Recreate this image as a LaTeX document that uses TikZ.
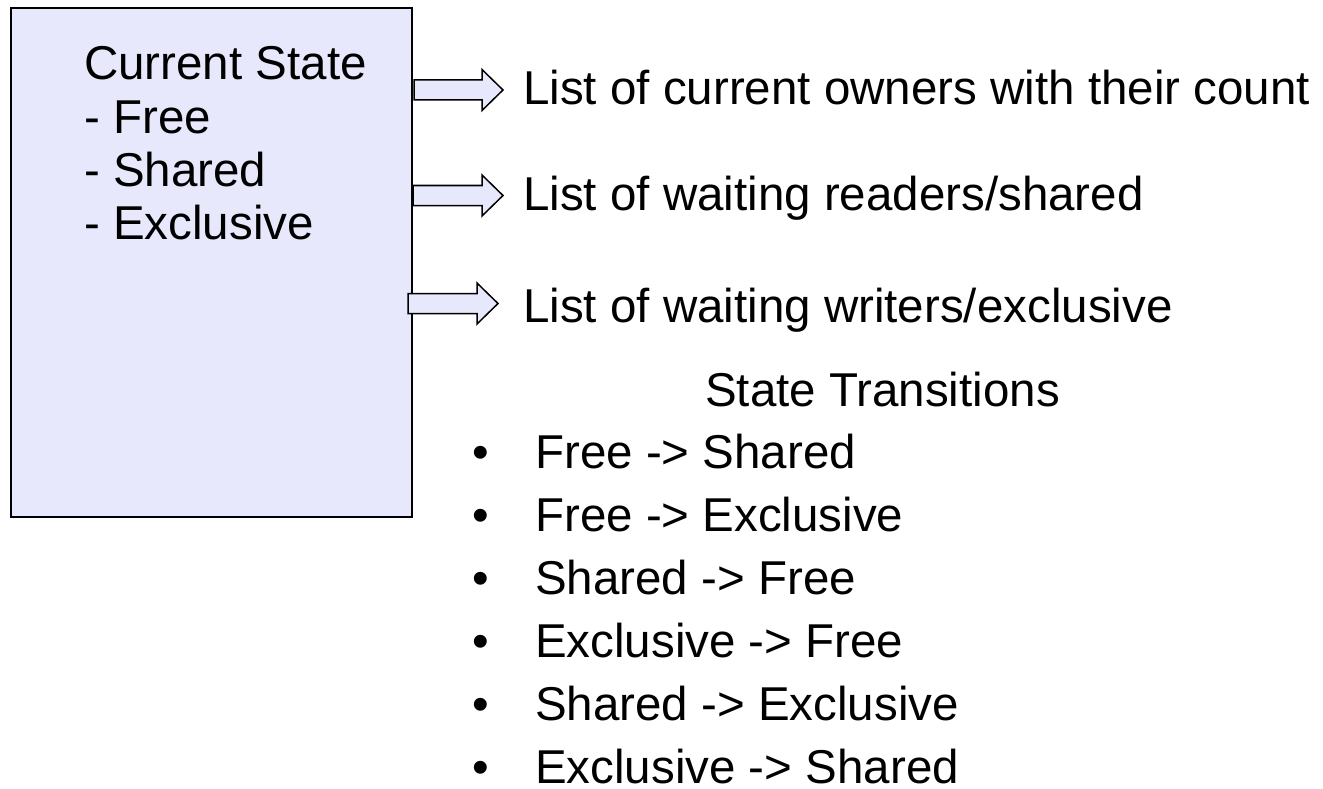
\documentclass[tikz,border=0pt]{standalone}
\usepackage{fontspec}
\setmainfont{Liberation Sans}
\usetikzlibrary{calc}
\definecolor{statefill}{RGB}{232,232,252}

\begin{document}
\begin{tikzpicture}[x=1pt, y=-1pt, box_style/.style={draw=black, line width=2pt, fill=statefill, minimum width=401pt, minimum height=509pt, inner sep=0pt, anchor=north west}, text_style/.style={anchor=base west, inner sep=0pt, font=\fontsize{47.5}{53}\selectfont}, bullet_style/.style={anchor=base, inner sep=0pt, font=\fontsize{47.5}{53}\selectfont}, fat_arrow_style/.style={draw=black, line width=1.5pt, fill=statefill, to path={let \p1=(\tikztostart), \p2=(\tikztotarget) in (\x1,\y1+10pt) -- (\x2-21pt,\y1+10pt) -- (\x2-21pt,\y1+20.5pt) -- (\x2,\y1) -- (\x2-21pt,\y1-20.5pt) -- (\x2-21pt,\y1-10pt) -- (\x1,\y1-10pt) -- cycle}}]
      \useasboundingbox (0,0) rectangle (1323,789);
      % lock record
      \node[box_style] (state) at (10,7) {};
      \foreach \line [count=\i] in {Current State, - Free, - Shared, - Exclusive}
        \node[text_style] (state\i) at (84, 80+53.33*\i-53.33) {\line};
      % queues hanging off the record
      \draw
        (523,105) node[text_style] (owners){List of current owners with their count}
        (523,211) node[text_style] (readers){List of waiting readers/shared}
        (523,322) node[text_style] (writers){List of waiting writers/exclusive};
      \coordinate (o1) at (414,90);   \coordinate (o2) at (503,90);
      \coordinate (r1) at (413,195.5); \coordinate (r2) at (503,195.5);
      \coordinate (w1) at (408,303.5); \coordinate (w2) at (498,303.5);
      \begin{scope}[-]
        \draw[fat_arrow_style] (o1) to (o2);
        \draw[fat_arrow_style] (r1) to (r2);
        \draw[fat_arrow_style] (w1) to (w2);
      \end{scope}
      % transitions
      \node[text_style] (trans) at (705,406) {State Transitions};
      \foreach \item [count=\i] in {Free -> Shared, Free -> Exclusive, Shared -> Free, Exclusive -> Free, Shared -> Exclusive, Exclusive -> Shared} {
        \node[bullet_style] (dot\i) at (481, 468+63*\i-63) {•};
        \node[text_style] (item\i) at (535, 468+63*\i-63) {\item};
      }
    \end{tikzpicture}
\end{document}
